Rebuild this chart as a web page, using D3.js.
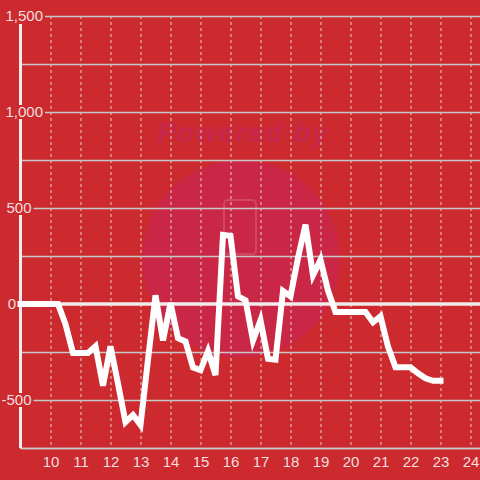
<!DOCTYPE html>
<html><head><meta charset="utf-8">
<script src="https://cdn.jsdelivr.net/npm/d3@7"></script>
<style>html,body{margin:0;padding:0;background:#cc2a2f;}svg{display:block;}</style>
</head><body>
<svg id="c" width="480" height="480"></svg>
<script>
// hours, every 15 minutes from 9:00 to 23:00
const times = [9,9.25,9.5,9.75,10,10.25,10.5,10.75,11,11.25,11.5,11.75,12,12.25,12.5,12.75,13,13.25,13.5,13.75,14,14.25,14.5,14.75,15,15.25,15.5,15.75,16,16.25,16.5,16.75,17,17.25,17.5,17.75,18,18.25,18.5,18.75,19,19.25,19.5,19.75,20,20.25,20.5,20.75,21,21.25,21.5,21.75,22,22.25,22.5,22.75,23];
const values = [0,0,0,0,0,0,-105,-255,-255,-255,-220,-425,-220,-415,-615,-578,-630,-290,45,-190,5,-178,-195,-330,-345,-245,-370,360,355,40,20,-190,-85,-285,-290,68,40,240,413,150,230,70,-42,-42,-42,-42,-42,-95,-64,-222,-330,-330,-330,-361,-387,-400,-400];
const yTicks = [-500,0,500,1000,1500];
const yGrid = [-750,-500,-250,250,500,750,1000,1250,1500];
const xTicks = [10,11,12,13,14,15,16,17,18,19,20,21,22,23,24];

const svg = d3.select("#c");
const bg = "#cc2a2f";
const x = d3.scaleLinear().domain([9, 24.3167]).range([20.5, 480]);
const y = d3.scaleLinear().domain([-750, 1500]).range([448, 16]);

// watermark
const wm = svg.append("g");
wm.append("circle").attr("cx",241).attr("cy",259).attr("r",99).attr("fill","#ca2746");
wm.append("text").attr("x",243).attr("y",142).attr("text-anchor","middle")
  .attr("font-family","Liberation Sans, Arial, sans-serif").attr("font-weight","bold")
  .attr("font-style","italic").attr("font-size",28).attr("letter-spacing",1.5).attr("fill","#c6284e").text("Powered by");
wm.append("rect").attr("x",224).attr("y",200).attr("width",32).attr("height",54).attr("rx",4)
  .attr("fill","none").attr("stroke","#d0485e").attr("stroke-width",2);

// vertical dashed grid
svg.append("g").selectAll("line").data(xTicks).join("line")
  .attr("x1",d=>x(d)+0.5).attr("x2",d=>x(d)+0.5).attr("y1",16).attr("y2",448)
  .attr("stroke","#e8d0d0").attr("stroke-width",1).attr("stroke-dasharray","3,3");

// horizontal grid
svg.append("g").selectAll("line").data(yGrid).join("line")
  .attr("x1",22).attr("x2",480).attr("y1",d=>Math.round(y(d))+0.5).attr("y2",d=>Math.round(y(d))+0.5)
  .attr("stroke","#c8c8c8").attr("stroke-width",1.3);

// zero line
svg.append("line").attr("x1",20).attr("x2",480).attr("y1",y(0)).attr("y2",y(0))
  .attr("stroke","#f0ecec").attr("stroke-width",3.5);

// y axis line
svg.append("line").attr("x1",20.5).attr("x2",20.5).attr("y1",24).attr("y2",448)
  .attr("stroke","#f0ecec").attr("stroke-width",3);

// y labels with background (label right edges vary as in the original)
const labelRight = t => (Math.abs(t) >= 1000 ? 43 : (t === 0 ? 16 : 31.5));
const fmt = t => d3.format(",")(t).replace("\u2212","-");
const yl = svg.append("g").attr("font-family","Liberation Sans, Arial, sans-serif").attr("font-size",15);
yTicks.forEach(t=>{
  const g = yl.append("g");
  const txt = g.append("text").attr("x",labelRight(t)).attr("y",y(t)+5).attr("text-anchor","end")
    .attr("fill","#f5dede").text(fmt(t));
  const bb = txt.node().getBBox();
  g.insert("rect","text").attr("x",bb.x-1).attr("y",bb.y+2).attr("width",bb.width+3).attr("height",bb.height-3).attr("fill",bg);
});

// x axis line
svg.append("line").attr("x1",20).attr("x2",480).attr("y1",448.5).attr("y2",448.5)
  .attr("stroke","#c8c8c8").attr("stroke-width",1.3);

// x labels
svg.append("g").attr("font-family","Liberation Sans, Arial, sans-serif").attr("font-size",15)
  .selectAll("text").data(xTicks).join("text")
  .attr("x",d=>x(d)+0.5).attr("y",467).attr("text-anchor","middle").attr("fill","#f5dede").text(d=>d);

// series line
const line = d3.line().x((d,i)=>x(times[i])).y(d=>y(d));
svg.append("path").datum(values).attr("d",line).attr("fill","none")
  .attr("stroke","#ffffff").attr("stroke-width",6).attr("stroke-linejoin","miter").attr("stroke-linecap","square");
</script>
</body></html>
